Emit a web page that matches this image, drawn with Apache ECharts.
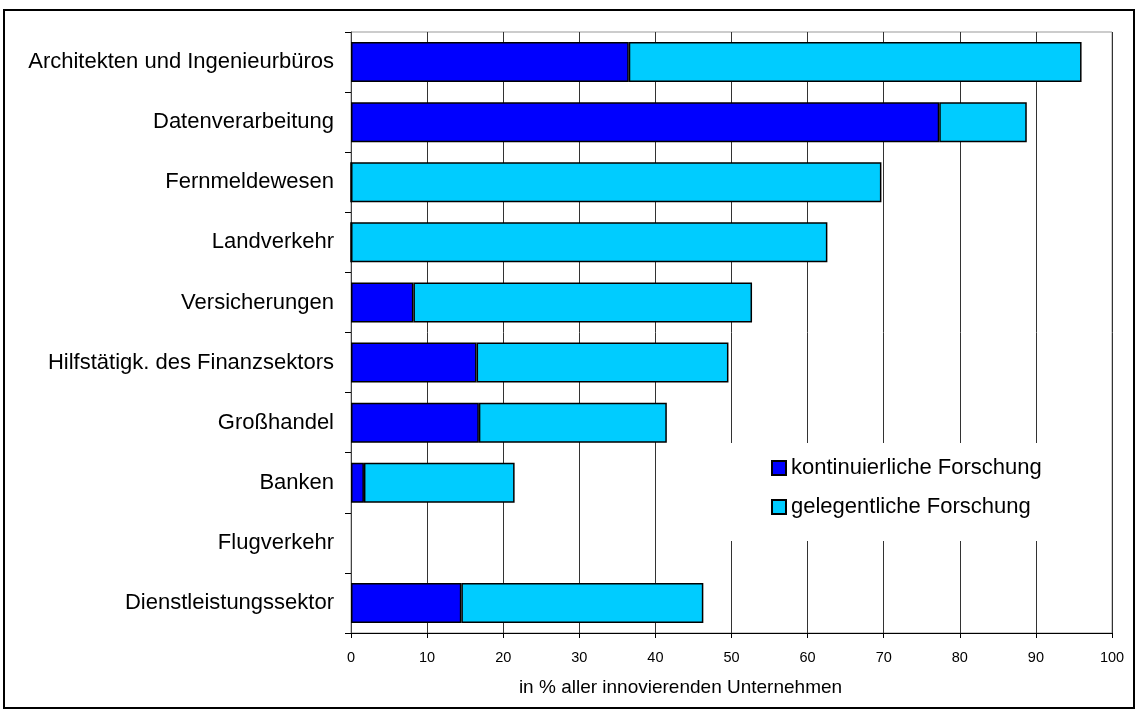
<!DOCTYPE html>
<html>
<head>
<meta charset="utf-8">
<script src="https://cdn.jsdelivr.net/npm/echarts@6/dist/echarts.min.js"></script>
<style>html,body{margin:0;padding:0;background:#fff}#c{width:1137px;height:711px}</style>
</head>
<body>
<div id="c"></div>
<script>
const categories = ['Architekten und Ingenieurbüros','Datenverarbeitung','Fernmeldewesen','Landverkehr','Versicherungen','Hilfstätigk. des Finanzsektors','Großhandel','Banken','Flugverkehr','Dienstleistungssektor'];
const kontinuierlich = [36.5, 77.3, 0, 0, 8.2, 16.5, 16.8, 1.7, null, 14.5];
const gelegentlich   = [59.5, 11.5, 69.7, 62.6, 44.5, 33.1, 24.7, 19.8, null, 31.8];
const seriesNames = ['kontinuierliche Forschung','gelegentliche Forschung'];
const axisTitle = 'in % aller innovierenden Unternehmen';

const FONT = '"Liberation Sans", Arial, sans-serif';
const chart = echarts.init(document.getElementById('c'));
chart.setOption({
  animation: false,
  backgroundColor: '#fff',
  textStyle: { fontFamily: FONT, color: '#000' },
  graphic: [{
    type: 'rect', silent: true, z: 100,
    shape: { x: 4, y: 10, width: 1130, height: 698 },
    style: { fill: 'none', stroke: '#000', lineWidth: 2 }
  }],
  grid: { left: 351, right: 25, top: 32, bottom: 78, show: true, borderColor: '#999', borderWidth: 1, backgroundColor: 'transparent' },
  legend: {
    orient: 'vertical',
    left: 727, top: 443,
    padding: [14, 60, 23, 44],
    backgroundColor: '#fff',
    itemWidth: 14, itemHeight: 14, itemGap: 17,
    icon: 'rect',
    textStyle: { fontFamily: FONT, fontSize: 22, color: '#000', lineHeight: 22 },
    data: seriesNames
  },
  xAxis: {
    type: 'value', min: 0, max: 100, interval: 10,
    axisLine: { show: true, lineStyle: { color: '#000', width: 1 } },
    axisTick: { show: true, length: 5, lineStyle: { color: '#000' } },
    axisLabel: { fontFamily: FONT, fontSize: 14.5, color: '#000', margin: 17 },
    splitLine: { show: true, lineStyle: { color: '#333', width: 1 } },
    name: axisTitle, nameLocation: 'middle', nameGap: 45,
    nameTextStyle: { fontFamily: FONT, fontSize: 19, color: '#000', padding: [0, 102, 0, 0] }
  },
  yAxis: {
    type: 'category', inverse: true, data: categories,
    axisLine: { show: true, lineStyle: { color: '#444', width: 1 } },
    axisTick: { show: true, length: 6, lineStyle: { color: '#000' } },
    axisLabel: { fontFamily: FONT, fontSize: 22, color: '#000', margin: 17, padding: [3, 0, 0, 0] },
    splitLine: { show: false }
  },
  series: [
    { name: seriesNames[0], type: 'bar', stack: 'a', barWidth: 40, data: kontinuierlich,
      itemStyle: { color: '#0000FF', borderColor: '#000', borderWidth: 1.5 } },
    { name: seriesNames[1], type: 'bar', stack: 'a', barWidth: 40, data: gelegentlich,
      itemStyle: { color: '#00CCFF', borderColor: '#000', borderWidth: 1.5 } }
  ]
});
</script>
</body>
</html>
